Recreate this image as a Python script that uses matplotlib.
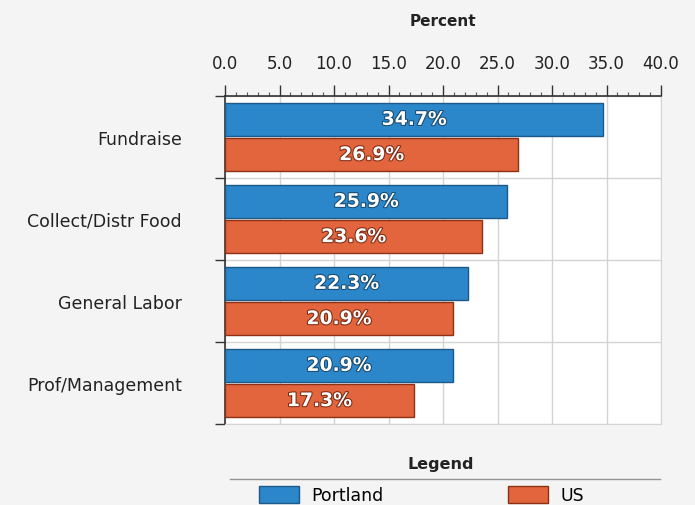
import numpy as np
import matplotlib.pyplot as plt
from matplotlib.patches import Patch
from matplotlib.lines import Line2D
from matplotlib.ticker import MultipleLocator, FormatStrFormatter
import matplotlib.patheffects as pe

# data
categorias = ["Fundraise", "Collect/Distr Food", "General Labor", "Prof/Management"]
portland = [34.7, 25.9, 22.3, 20.9]
us = [26.9, 23.6, 20.9, 17.3]
series_names = ["Portland", "US"]

cor_portland = "#2b87c9"
borda_portland = "#1d5a88"
cor_us = "#e3653d"
borda_us = "#8c3016"

fig = plt.figure(figsize=(6.95, 5.06), dpi=100)
fig.patch.set_facecolor("#f4f4f4")
ax = fig.add_axes([225 / 695, 1 - 425 / 506, 436 / 695, 328 / 506])
ax.set_facecolor("white")

y = np.arange(len(categorias))
off = 0.215
h = 0.41
bars_p = ax.barh(y - off, portland, height=h, color=cor_portland, edgecolor=borda_portland, linewidth=1.0, zorder=3)
bars_u = ax.barh(y + off, us, height=h, color=cor_us, edgecolor=borda_us, linewidth=1.0, zorder=3)

# rotulos dentro das barras
for barras, vals, sombra in [(bars_p, portland, "#174a70"), (bars_u, us, "#7a2a12")]:
    for b, v in zip(barras, vals):
        ax.text(b.get_width() / 2, b.get_y() + b.get_height() / 2, f"{v:.1f}%",
                ha="center", va="center", color="white", fontsize=13.5, fontweight="bold",
                zorder=4, path_effects=[pe.withStroke(linewidth=1.5, foreground=sombra)])

ax.set_xlim(0, 40)
ax.set_ylim(len(categorias) - 0.5, -0.5)

# eixo x no topo
ax.xaxis.tick_top()
ax.xaxis.set_major_locator(MultipleLocator(5))
ax.xaxis.set_minor_locator(MultipleLocator(1))
ax.xaxis.set_major_formatter(FormatStrFormatter("%.1f"))
ax.tick_params(axis="x", which="major", direction="out", length=8, width=1, color="#333333",
               labelsize=12, labelcolor="#222222", pad=9)
ax.tick_params(axis="x", which="minor", direction="out", length=3, width=0.8, color="#555555")
ax.xaxis.set_label_position("top")
ax.set_xlabel("Percent", fontsize=11, fontweight="bold", color="#222222", labelpad=21)

# eixo y: rotulos nas categorias, ticks nas divisoes
ax.set_yticks(y)
ax.set_yticklabels(categorias)
ax.set_yticks(np.arange(len(categorias) + 1) - 0.5, minor=True)
ax.tick_params(axis="y", which="major", length=0, labelsize=12.5, labelcolor="#222222", pad=31)
ax.tick_params(axis="y", which="minor", direction="out", length=7, width=1, color="#333333")

ax.grid(True, axis="x", which="major", color="#d4d4d4", lw=1, zorder=0)
ax.grid(True, axis="y", which="minor", color="#d4d4d4", lw=1, zorder=0)

for lado in ["top", "left"]:
    ax.spines[lado].set_color("#333333")
    ax.spines[lado].set_linewidth(1.2)
for lado in ["right", "bottom"]:
    ax.spines[lado].set_color("#d4d4d4")

# legenda
fig.text(441 / 695, 1 - 465 / 506, "Legend", ha="center", va="center", fontsize=11.5,
         fontweight="bold", color="#222222")
fig.add_artist(Line2D([230 / 695, 660 / 695], [1 - 480 / 506, 1 - 480 / 506],
                      color="#555555", lw=1, alpha=0.6))
handles = [Patch(facecolor=cor_portland, edgecolor=borda_portland, label=series_names[0]),
           Patch(facecolor=cor_us, edgecolor=borda_us, label=series_names[1])]
fig.legend(handles=handles, loc="upper left", bbox_to_anchor=(259 / 695, 1 - 487 / 506),
           ncol=2, frameon=False, fontsize=12.5, handlelength=2.3, handleheight=1.15,
           handletextpad=0.7, columnspacing=7.2, borderpad=0, borderaxespad=0)

fig.savefig("out.png", dpi=100, facecolor=fig.get_facecolor())
